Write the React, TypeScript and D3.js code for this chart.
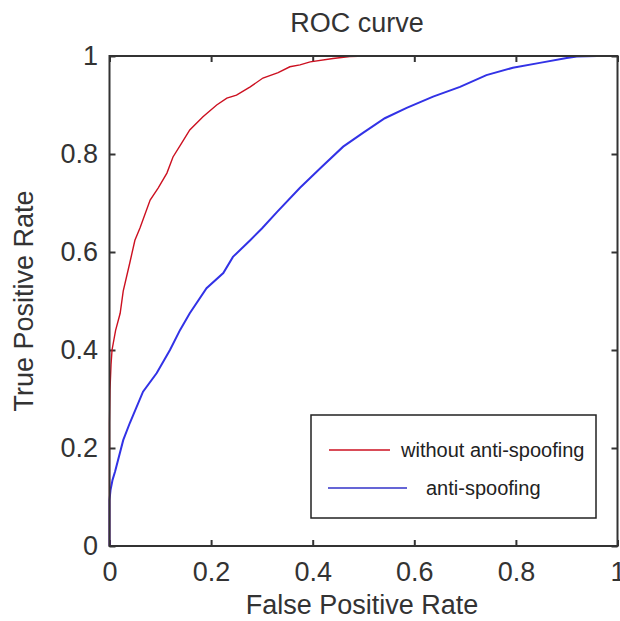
import React, { useEffect, useRef } from 'react';
import * as d3 from 'd3';

// ROC points: [false positive rate, true positive rate]
const withoutAntiSpoofing: [number, number][] = [
  [0, 0], [0, 0.1], [0, 0.25], [0.001, 0.32], [0.003, 0.37], [0.005, 0.4],
  [0.012, 0.44], [0.021, 0.475], [0.027, 0.52], [0.04, 0.578], [0.05, 0.624],
  [0.06, 0.649], [0.08, 0.706], [0.096, 0.731], [0.113, 0.761], [0.125, 0.794],
  [0.142, 0.822], [0.158, 0.849], [0.184, 0.876], [0.211, 0.9], [0.231, 0.914],
  [0.25, 0.92], [0.277, 0.937], [0.302, 0.955], [0.332, 0.966], [0.355, 0.978],
  [0.375, 0.982], [0.395, 0.988], [0.44, 0.995], [0.473, 0.999], [0.506, 1], [1, 1],
];

const antiSpoofing: [number, number][] = [
  [0, 0], [0, 0.094], [0.002, 0.114], [0.006, 0.135], [0.011, 0.152], [0.027, 0.216],
  [0.04, 0.251], [0.066, 0.315], [0.093, 0.353], [0.119, 0.4], [0.139, 0.441],
  [0.158, 0.475], [0.191, 0.526], [0.224, 0.557], [0.243, 0.59], [0.277, 0.624],
  [0.3, 0.648], [0.33, 0.682], [0.375, 0.731], [0.418, 0.774], [0.46, 0.815],
  [0.499, 0.843], [0.542, 0.873], [0.585, 0.894], [0.637, 0.917], [0.69, 0.937],
  [0.742, 0.961], [0.794, 0.976], [0.847, 0.986], [0.9, 0.996], [0.92, 0.999],
  [0.96, 1], [1, 1],
];

const ticks = [0, 0.2, 0.4, 0.6, 0.8, 1];
const seriesNames = ['without anti-spoofing', 'anti-spoofing'];

const FONT = '"Liberation Sans", Arial, Helvetica, sans-serif';

const App = () => {
  const svgRef = useRef<SVGSVGElement>(null);

  useEffect(() => {
    const width = 620;
    const height = 621;
    const left = 109.5, right = 617.5, top = 56, bottom = 546;

    const svg = d3.select(svgRef.current)
      .attr('width', width)
      .attr('height', height);
    svg.selectAll('*').remove();

    svg.append('rect').attr('width', width).attr('height', height).attr('fill', '#fff');

    const x = d3.scaleLinear().domain([0, 1]).range([left, right]);
    const y = d3.scaleLinear().domain([0, 1]).range([bottom, top]);

    const fmt = (d: d3.NumberValue) => String(d);

    const styleAxis = (g: d3.Selection<SVGGElement, unknown, null, undefined>) => {
      g.select('.domain').remove();
      g.selectAll('line').attr('stroke', '#333').attr('stroke-width', 2);
      g.selectAll('text')
        .attr('fill', '#333')
        .style('font-family', FONT)
        .style('font-size', '27px');
    };

    svg.append('g')
      .attr('transform', `translate(0,${bottom})`)
      .call(d3.axisBottom(x).tickValues(ticks).tickSize(-6).tickPadding(16).tickFormat(fmt))
      .call(styleAxis);
    svg.append('g')
      .attr('transform', `translate(${left},0)`)
      .call(d3.axisLeft(y).tickValues(ticks).tickSize(-6).tickPadding(11.5).tickFormat(fmt))
      .call(styleAxis);
    svg.append('g')
      .attr('transform', `translate(0,${top})`)
      .call(d3.axisTop(x).tickValues(ticks).tickSize(-6).tickFormat(() => ''))
      .call(styleAxis);
    svg.append('g')
      .attr('transform', `translate(${right},0)`)
      .call(d3.axisRight(y).tickValues(ticks).tickSize(-6).tickFormat(() => ''))
      .call(styleAxis);

    const line = d3.line<[number, number]>()
      .x(d => x(d[0]))
      .y(d => y(d[1]));

    svg.append('path')
      .datum(antiSpoofing)
      .attr('d', line)
      .attr('fill', 'none')
      .attr('stroke', '#3232e6')
      .attr('stroke-width', 2);

    svg.append('path')
      .datum(withoutAntiSpoofing)
      .attr('d', line)
      .attr('fill', 'none')
      .attr('stroke', '#cc1020')
      .attr('stroke-width', 1.4);

    // frame
    svg.append('rect')
      .attr('x', left).attr('y', top)
      .attr('width', right - left).attr('height', bottom - top)
      .attr('fill', 'none')
      .attr('stroke', '#333')
      .attr('stroke-width', 2);

    // legend
    const legend = svg.append('g');
    legend.append('rect')
      .attr('x', 311).attr('y', 415).attr('width', 285).attr('height', 103)
      .attr('fill', '#fff').attr('stroke', '#222').attr('stroke-width', 1.5);
    const legendRows = [
      { name: seriesNames[0], color: '#cc1020', x1: 329, x2: 390, tx: 401, yy: 450 },
      { name: seriesNames[1], color: '#3232c8', x1: 328, x2: 407, tx: 426, yy: 488 },
    ];
    legendRows.forEach(r => {
      legend.append('line')
        .attr('x1', r.x1).attr('x2', r.x2).attr('y1', r.yy).attr('y2', r.yy)
        .attr('stroke', r.color).attr('stroke-width', 1.4);
      legend.append('text')
        .attr('x', r.tx).attr('y', r.yy + 7)
        .attr('fill', '#222')
        .style('font-family', FONT)
        .style('font-size', '20px')
        .text(r.name);
    });

    // title and labels
    svg.append('text')
      .attr('x', 357).attr('y', 32)
      .attr('text-anchor', 'middle')
      .attr('fill', '#333')
      .style('font-family', FONT)
      .style('font-size', '27px')
      .text('ROC curve');

    svg.append('text')
      .attr('x', 362).attr('y', 614)
      .attr('text-anchor', 'middle')
      .attr('fill', '#333')
      .style('font-family', FONT)
      .style('font-size', '27px')
      .text('False Positive Rate');

    svg.append('text')
      .attr('transform', `translate(33,${(top + bottom) / 2}) rotate(-90)`)
      .attr('text-anchor', 'middle')
      .attr('fill', '#333')
      .style('font-family', FONT)
      .style('font-size', '27px')
      .text('True Positive Rate');
  }, []);

  return (
    <svg ref={svgRef} style={{ position: 'absolute', left: 0, top: 0, display: 'block' }}></svg>
  );
};

export default App;
